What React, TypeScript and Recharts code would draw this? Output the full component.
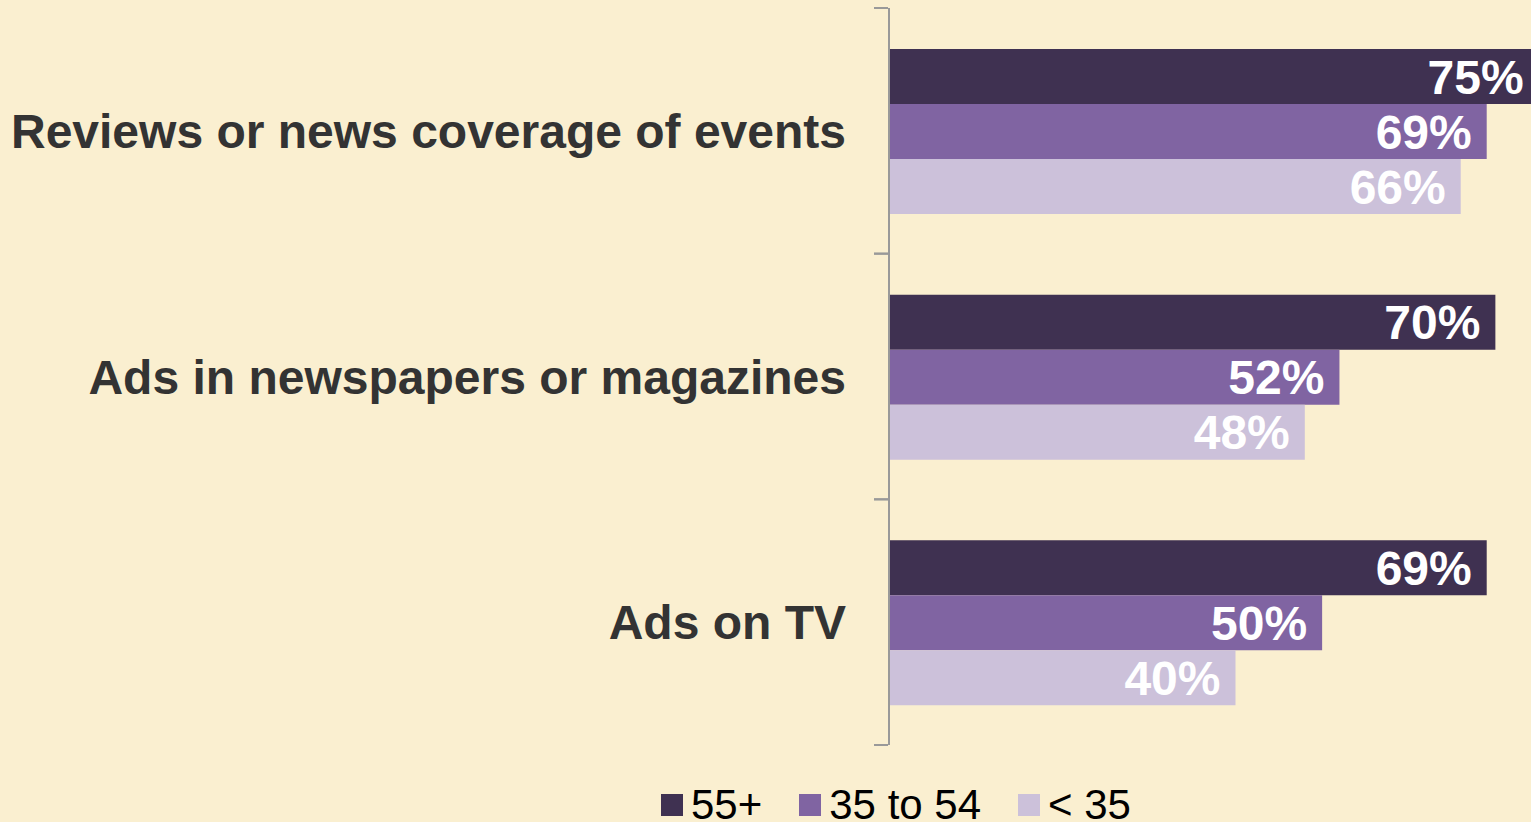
import React from 'react';
import { BarChart, Bar, XAxis, YAxis, LabelList } from 'recharts';

const categories = ['Reviews or news coverage of events', 'Ads in newspapers or magazines', 'Ads on TV'];
const age55plus = [75, 70, 69];
const age35to54 = [69, 52, 50];
const ageUnder35 = [66, 48, 40];
const seriesNames = ['55+', '35 to 54', '< 35'];
const seriesKeys = ['s55', 's35', 's0'];
const colors = ['#3F3151', '#8064A2', '#CCC1DA'];

const data = categories.map((name, i) => ({
  name,
  s55: age55plus[i],
  s35: age35to54[i],
  s0: ageUnder35[i],
}));

const FONT = '"Liberation Sans", Arial, sans-serif';
const TOP = 8;
const PLOT_H = 737;
const BAND = PLOT_H / categories.length;

const CategoryTick = (props: any) => {
  const { x, y, payload } = props;
  return (
    <g>
      <line x1={x - 15} x2={x - 1} y1={y - BAND / 2} y2={y - BAND / 2} stroke="#999" strokeWidth={2} />
      <line x1={x - 15} x2={x - 1} y1={y + BAND / 2} y2={y + BAND / 2} stroke="#999" strokeWidth={2} />
      <text x={x - 43} y={y + 17} textAnchor="end" fontFamily={FONT} fontWeight="bold" fontSize={48} fill="#333333">
        {payload.value}
      </text>
    </g>
  );
};

const ValueLabel = (props: any) => {
  const { x, y, width, height, value } = props;
  return (
    <text x={x + width - 15} y={y + height / 2 + 17} textAnchor="end" fontFamily={FONT} fontWeight="bold" fontSize={48} fill="#FFFFFF">
      {`${value}%`}
    </text>
  );
};

const LegendBox = () => (
  <div style={{ position: 'absolute', left: 661, top: 784, display: 'flex', alignItems: 'center', fontFamily: FONT, fontSize: 42, lineHeight: '42px', color: '#000' }}>
    {seriesNames.map((n, i) => (
      <div key={n} style={{ display: 'flex', alignItems: 'center', marginRight: i < 2 ? 37 : 0 }}>
        <div style={{ width: 22, height: 22, background: colors[i], marginRight: 8 }} />
        <span style={{ whiteSpace: 'nowrap' }}>{n}</span>
      </div>
    ))}
  </div>
);

export default function App() {
  return (
    <div style={{ position: 'fixed', left: 0, top: 0, width: 1531, height: 822, overflow: 'hidden', background: '#FAEFD0' }}>
      <BarChart
        width={1590}
        height={822}
        data={data}
        layout="vertical"
        margin={{ top: TOP, right: 8, bottom: 822 - TOP - PLOT_H, left: 0 }}
        barCategoryGap="16.7%"
        barGap={0}
      >
        <XAxis type="number" domain={[0, 80]} hide />
        <YAxis
          type="category"
          dataKey="name"
          width={889}
          axisLine={{ stroke: '#999', strokeWidth: 2 }}
          tickLine={false}
          tickSize={0}
          tickMargin={0}
          tick={<CategoryTick />}
          interval={0}
        />
        {seriesKeys.map((k, i) => (
          <Bar key={k} dataKey={k} name={seriesNames[i]} fill={colors[i]} isAnimationActive={false}>
            <LabelList dataKey={k} content={<ValueLabel />} />
          </Bar>
        ))}
      </BarChart>
      <LegendBox />
    </div>
  );
}
